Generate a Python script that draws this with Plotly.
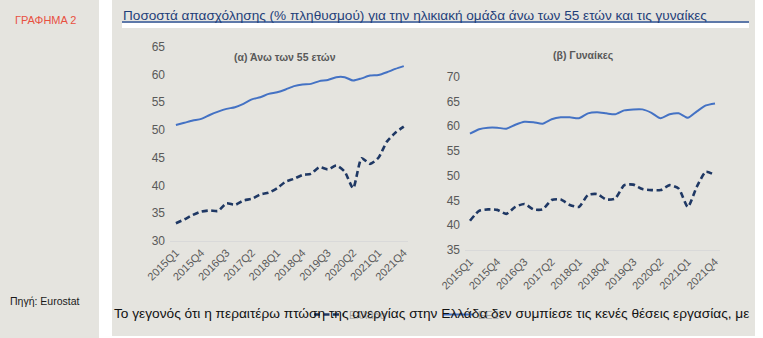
import plotly.graph_objects as go

quarters = [f"{y}Q{q}" for y in range(2015, 2022) for q in range(1, 5)]
tick_labels = quarters[::3]

# (α) Άνω των 55 ετών
eu_55 = [50.9, 51.3, 51.7, 52.0, 52.7, 53.3, 53.8, 54.1, 54.7, 55.5, 55.9, 56.5, 56.8, 57.3,
         57.9, 58.2, 58.3, 58.8, 59.0, 59.5, 59.5, 58.9, 59.3, 59.8, 59.9, 60.4, 61.0, 61.5]
gr_55 = [33.2, 33.9, 34.7, 35.3, 35.5, 35.4, 36.8, 36.5, 37.3, 37.6, 38.4, 38.7, 39.5, 40.7,
         41.2, 41.9, 42.1, 43.3, 42.9, 43.6, 42.5, 39.5, 44.9, 43.9, 45.0, 47.9, 49.5, 50.6]
# (β) Γυναίκες
eu_w = [58.5, 59.4, 59.7, 59.7, 59.5, 60.3, 60.9, 60.8, 60.5, 61.4, 61.8, 61.8, 61.6, 62.6,
        62.8, 62.6, 62.4, 63.2, 63.4, 63.4, 62.7, 61.6, 62.4, 62.6, 61.7, 63.0, 64.2, 64.6]
gr_w = [40.9, 42.9, 43.2, 43.1, 42.3, 43.7, 44.3, 43.2, 43.2, 45.1, 45.2, 44.1, 43.7, 46.1,
        46.3, 45.2, 45.4, 48.1, 48.2, 47.3, 47.1, 47.1, 48.1, 47.4, 43.7, 47.8, 50.8, 50.1]

EU_COLOR = "#4472C4"
GR_COLOR = "#1F3864"
GRAY_TXT = "#595959"
BG = "#E5E4DF"
W, H = 763, 338
FONT = "Liberation Sans, Arial, sans-serif"
GR_DASH = "6px,3.5px"

fig = go.Figure()
x = list(range(len(quarters)))

fig.add_trace(go.Scatter(x=x, y=gr_55, mode="lines", name="Ελλάδα", line=dict(color=GR_COLOR, width=2.6, dash=GR_DASH, shape="spline", smoothing=0.6), xaxis="x", yaxis="y", showlegend=True))
fig.add_trace(go.Scatter(x=x, y=eu_55, mode="lines", name="ΕΕ27", line=dict(color=EU_COLOR, width=2, shape="spline", smoothing=0.6), xaxis="x", yaxis="y", showlegend=True))
fig.add_trace(go.Scatter(x=x, y=gr_w, mode="lines", name="Ελλάδα", line=dict(color=GR_COLOR, width=2.6, dash=GR_DASH, shape="spline", smoothing=0.6), xaxis="x2", yaxis="y2", showlegend=False))
fig.add_trace(go.Scatter(x=x, y=eu_w, mode="lines", name="ΕΕ27", line=dict(color=EU_COLOR, width=2, shape="spline", smoothing=0.6), xaxis="x2", yaxis="y2", showlegend=False))

tickvals = x[::3]
xcommon = dict(tickvals=tickvals, ticktext=tick_labels, tickangle=-45, showgrid=False, zeroline=False,
               showline=True, linecolor="#D9D9D9", linewidth=1, ticks="", automargin=False,
               tickfont=dict(family=FONT, size=11, color=GRAY_TXT))
ycommon = dict(showgrid=False, zeroline=False, showline=False, ticks="", dtick=5, automargin=False,
               tickfont=dict(family=FONT, size=12, color=GRAY_TXT), ticklabelstandoff=4)

fig.update_layout(
    width=W, height=H,
    margin=dict(l=0, r=0, t=0, b=0, pad=0, autoexpand=False),
    paper_bgcolor="white", plot_bgcolor="rgba(0,0,0,0)",
    xaxis=dict(domain=[170 / W, 408 / W], range=[-0.7, 27.5], anchor="y", **xcommon),
    yaxis=dict(domain=[1 - 241 / H, 1 - 46.7 / H], range=[30, 65], anchor="x", **ycommon),
    xaxis2=dict(domain=[465 / W, 720 / W], range=[-0.55, 27.55], anchor="y2", **xcommon),
    yaxis2=dict(domain=[1 - 250 / H, 1 - 76.7 / H], range=[35, 70], anchor="x2", **ycommon),
    legend=dict(orientation="h", x=309 / W, y=1 - 300 / H, xanchor="left", yanchor="top",
                bgcolor="rgba(0,0,0,0)", font=dict(family=FONT, size=11, color="#A6A6A6"),
                entrywidth=84, entrywidthmode="pixels", itemwidth=30),
    showlegend=True,
)

shapes = [
    dict(type="rect", xref="paper", yref="paper", x0=0, x1=99 / W, y0=0, y1=1, fillcolor=BG, line=dict(width=0), layer="below"),
    dict(type="rect", xref="paper", yref="paper", x0=112 / W, x1=755 / W, y0=1 - 336 / H, y1=1, fillcolor=BG, line=dict(width=0), layer="below"),
    dict(type="rect", xref="paper", yref="paper", x0=122 / W, x1=749 / W, y0=1 - 28 / H, y1=1 - 23 / H, fillcolor="white", line=dict(width=0), layer="below"),
    dict(type="line", xref="paper", yref="paper", x0=122 / W, x1=749 / W, y0=1 - 22 / H, y1=1 - 22 / H, line=dict(color="#2F5597", width=1.5), layer="below"),
]
fig.update_layout(shapes=shapes)

ann = [
    dict(text="ΓΡΑΦΗΜΑ 2", x=13 / W, y=1 - 20 / H, xanchor="left", yanchor="middle",
         font=dict(family=FONT, size=11, color="#E8503F")),
    dict(text="Ποσοστά απασχόλησης (% πληθυσμού) για την ηλικιακή ομάδα άνω των 55 ετών και τις γυναίκες",
         x=121 / W, y=1 - 15 / H, xanchor="left", yanchor="middle",
         font=dict(family=FONT, size=13.6, color="#1F3F7A")),
    dict(text="<b>(α) Άνω των 55 ετών</b>", x=285 / W, y=1 - 57 / H, xanchor="center", yanchor="middle",
         font=dict(family=FONT, size=10.5, color=GRAY_TXT)),
    dict(text="<b>(β) Γυναίκες</b>", x=583 / W, y=1 - 55 / H, xanchor="center", yanchor="middle",
         font=dict(family=FONT, size=10.5, color=GRAY_TXT)),
    dict(text="Πηγή: Eurostat", x=8 / W, y=1 - 301 / H, xanchor="left", yanchor="middle",
         font=dict(family=FONT, size=10.5, color="#1A1A1A")),
    dict(text="Το γεγονός ότι η περαιτέρω πτώση της ανεργίας στην Ελλάδα δεν συμπίεσε τις κενές θέσεις εργασίας, με",
         x=112 / W, y=1 - 313 / H, xanchor="left", yanchor="middle",
         font=dict(family=FONT, size=13.7, color="#111111")),
]
for a in ann:
    a.update(xref="paper", yref="paper", showarrow=False)
fig.update_layout(annotations=ann)

fig.write_html("out.html")
